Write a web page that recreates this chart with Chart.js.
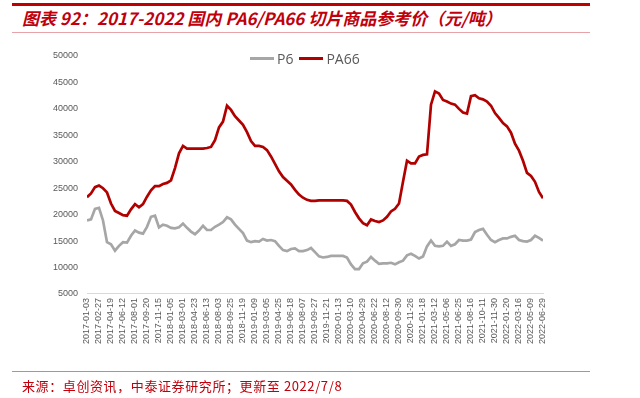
<!DOCTYPE html>
<html>
<head>
<meta charset="utf-8">
<script src="https://cdn.jsdelivr.net/npm/chart.js@4.4.0/dist/chart.umd.min.js"></script>
<style>
  html, body { margin: 0; padding: 0; background: #fff; }
  #page { position: relative; width: 640px; height: 398px; overflow: hidden; font-family: "Noto Sans CJK SC", sans-serif; }
  #topRule { position: absolute; left: 12px; top: 3px; width: 578px; height: 3px; background: #c00000; }
  #title { position: absolute; left: 22px; top: 5px; font-size: 17px; font-weight: bold; font-style: italic; color: #c0000b; white-space: nowrap; }
  #titleRule { position: absolute; left: 12px; top: 32px; width: 578px; height: 1px; background: #e6a3a8; }
  #footRule { position: absolute; left: 12px; top: 371px; width: 578px; height: 1px; background: #e07c86; }
  #source { position: absolute; left: 22px; top: 376px; font-size: 13px; letter-spacing: 0.6px; color: #c0000b; white-space: nowrap; }
  #chartBox { position: absolute; left: 0; top: 0; width: 640px; height: 398px; }
  #legend { position: absolute; top: 49px; left: 250px; display: flex; align-items: center; font-family: "Open Sans", sans-serif; font-size: 14px; color: #595959; }
  #legend span.sw { display: inline-block; width: 24px; height: 3px; margin-right: 3px; }
  #legend span.item { display: flex; align-items: center; margin-right: 6px; }
</style>
</head>
<body>
<div id="page">
  <div id="topRule"></div>
  <div id="title">图表 92：2017-2022 国内 PA6/PA66 切片商品参考价（元/吨）</div>
  <div id="titleRule"></div>
  <div id="chartBox"><canvas id="myChart"></canvas></div>
  <div id="legend"></div>
  <div id="footRule"></div>
  <div id="source">来源：卓创资讯，中泰证券研究所；更新至 2022/7/8</div>
</div>
<script>
// tick labels on the x axis (one every ~7 weeks)
const tickDates = [
  "2017-01-03", "2017-02-27", "2017-04-19", "2017-06-12", "2017-08-01", "2017-09-20", "2017-11-15",
  "2018-01-05", "2018-03-01", "2018-04-23", "2018-06-13", "2018-08-03", "2018-09-25", "2018-11-19",
  "2019-01-09", "2019-03-05", "2019-04-25", "2019-06-18", "2019-08-07", "2019-09-27", "2019-11-21",
  "2020-01-13", "2020-03-10", "2020-04-29", "2020-06-22", "2020-08-12", "2020-09-30", "2020-11-26",
  "2021-01-18", "2021-03-12", "2021-05-06", "2021-06-25", "2021-08-16", "2021-10-11", "2021-11-30",
  "2022-01-20", "2022-03-16", "2022-05-09", "2022-06-29"
];

// readings taken 3 per tick interval
const PER_TICK = 3;

const seriesNames = ["P6", "PA66"];
const seriesColors = ["#a6a6a6", "#b00000"];

const p6 = [
  18900, 19100, 21100, 21300, 18900, 14800, 14400, 13200, 14100, 14800,
  14700, 16000, 17000, 16600, 16400, 17700, 19600, 19800, 17600, 18100,
  17900, 17500, 17400, 17600, 18300, 17500, 16800, 16300, 17000, 17900,
  17100, 17100, 17700, 18100, 18600, 19500, 19100, 18100, 17300, 16500,
  15100, 14800, 15000, 14900, 15400, 15100, 15200, 15000, 14100, 13300,
  13100, 13500, 13600, 13100, 13100, 13300, 13700, 12900, 12100, 11900,
  12000, 12200, 12200, 12200, 12200, 11900, 10600, 9700, 9700, 10800,
  11100, 12000, 11300, 10700, 10800, 10800, 10900, 10600, 11000, 11300,
  12300, 12600, 12200, 11700, 12100, 14000, 15100, 14100, 14000, 14100,
  14900, 14100, 14400, 15200, 15100, 15100, 15300, 16700, 17100, 17300,
  16200, 15200, 14800, 15200, 15500, 15500, 15800, 16000, 15200, 15000,
  14900, 15200, 16000, 15600, 15100
];

const pa66 = [
  23300, 24000, 25200, 25500, 25000, 24200, 22100, 20700, 20300, 19900,
  19800, 21000, 22000, 21400, 22000, 23400, 24600, 25400, 25400, 25800,
  26000, 26500, 28800, 31600, 33000, 32500, 32500, 32500, 32500, 32500,
  32600, 32800, 34100, 36500, 37600, 40600, 39800, 38600, 37800, 37000,
  35600, 33900, 33000, 33000, 32800, 32200, 31000, 29600, 28200, 27100,
  26400, 25700, 24700, 23800, 23200, 22800, 22600, 22600, 22700, 22700,
  22700, 22700, 22700, 22700, 22700, 22600, 21900, 20500, 19300, 18400,
  18000, 19100, 18800, 18600, 18900, 19600, 20600, 21100, 22100, 26200,
  30200, 29700, 29700, 31000, 31300, 31400, 40800, 43300, 42900, 41700,
  41400, 41000, 40800, 40000, 39300, 39100, 42400, 42600, 42000, 41800,
  41400, 40600, 39200, 38300, 37300, 36700, 35500, 33400, 32100, 30200,
  27900, 27300, 26200, 24300, 23100
];

const yMin = 5000, yMax = 50000, yStep = 5000;

const toPoints = arr => arr.map((v, k) => ({ x: k / PER_TICK, y: v }));
const seriesData = [p6, pa66];

// legend built from the series names
const legendEl = document.getElementById("legend");
seriesNames.forEach((name, i) => {
  const item = document.createElement("span");
  item.className = "item";
  item.innerHTML = '<span class="sw" style="background:' + seriesColors[i] + '"></span>' + name;
  legendEl.appendChild(item);
});

const ctx = document.getElementById("myChart").getContext("2d");
new Chart(ctx, {
  type: "line",
  data: {
    datasets: seriesNames.map((name, i) => ({
      label: name,
      data: toPoints(seriesData[i]),
      borderColor: seriesColors[i],
      backgroundColor: seriesColors[i],
      borderWidth: 2.7,
      pointRadius: 0,
      tension: 0,
      fill: false,
    })),
  },
  options: {
    responsive: true,
    maintainAspectRatio: false,
    animation: false,
    layout: { padding: { left: 48, right: 97, top: 56, bottom: 50 } },
    plugins: {
      legend: { display: false },
      tooltip: { enabled: false },
    },
    scales: {
      x: {
        type: "linear",
        min: 0,
        max: tickDates.length - 1,
        grid: { display: false, drawTicks: false },
        border: { display: true, color: "#d9d9d9", width: 1 },
        ticks: {
          stepSize: 1,
          autoSkip: false,
          maxRotation: 90,
          minRotation: 90,
          padding: 4,
          color: "#595959",
          font: { family: "Liberation Sans", size: 9 },
          callback: v => tickDates[v],
        },
      },
      y: {
        min: yMin,
        max: yMax,
        afterFit: s => { s.width = 39; },
        grid: { display: false, drawTicks: false },
        border: { display: false },
        ticks: {
          stepSize: yStep,
          padding: 9,
          color: "#595959",
          font: { family: "Liberation Sans", size: 9 },
          callback: v => String(v),
        },
      },
    },
  },
});
</script>
</body>
</html>
